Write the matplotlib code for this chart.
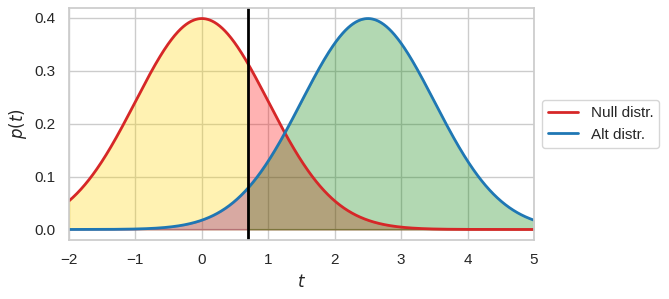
import numpy as np
import matplotlib
matplotlib.use("Agg")
import matplotlib.pyplot as plt
import seaborn as sns

sns.set_theme(style="whitegrid")
plt.rcParams["font.family"] = ["Liberation Sans", "DejaVu Sans"]

# distribution parameters
null_mean, null_sd = 0.0, 1.0
alt_mean, alt_sd = 2.5, 1.0
threshold = 0.7
t_min, t_max = -2, 5


def normal_pdf(x, mu, sd):
    return np.exp(-0.5 * ((x - mu) / sd) ** 2) / (sd * np.sqrt(2 * np.pi))


t = np.linspace(t_min, t_max, 701)
p_null = normal_pdf(t, null_mean, null_sd)
p_alt = normal_pdf(t, alt_mean, alt_sd)

fig = plt.figure(figsize=(6.69, 2.99), dpi=100)
ax = fig.add_axes([69 / 669, 59 / 299, 465 / 669, 232 / 299])

left = t <= threshold
right = t >= threshold

# shaded areas
ax.fill_between(t[left], p_null[left], color="gold", alpha=0.3)
ax.fill_between(t[right], p_null[right], color="red", alpha=0.3)
ax.fill_between(t[left], p_alt[left], color="purple", alpha=0.3)
ax.fill_between(t[right], p_alt[right], color="green", alpha=0.3)

ax.plot(t, p_null, color="#d62728", lw=2, label="Null distr.")
ax.plot(t, p_alt, color="#1f77b4", lw=2, label="Alt distr.")
ax.axvline(threshold, color="black", lw=2)

ax.set_xlim(t_min, t_max)
ax.set_xlabel("$t$")
ax.set_ylabel("$p(t)$")
ax.legend(loc="center left", bbox_to_anchor=(1, 0.5))

fig.savefig("out.png", dpi=100)
